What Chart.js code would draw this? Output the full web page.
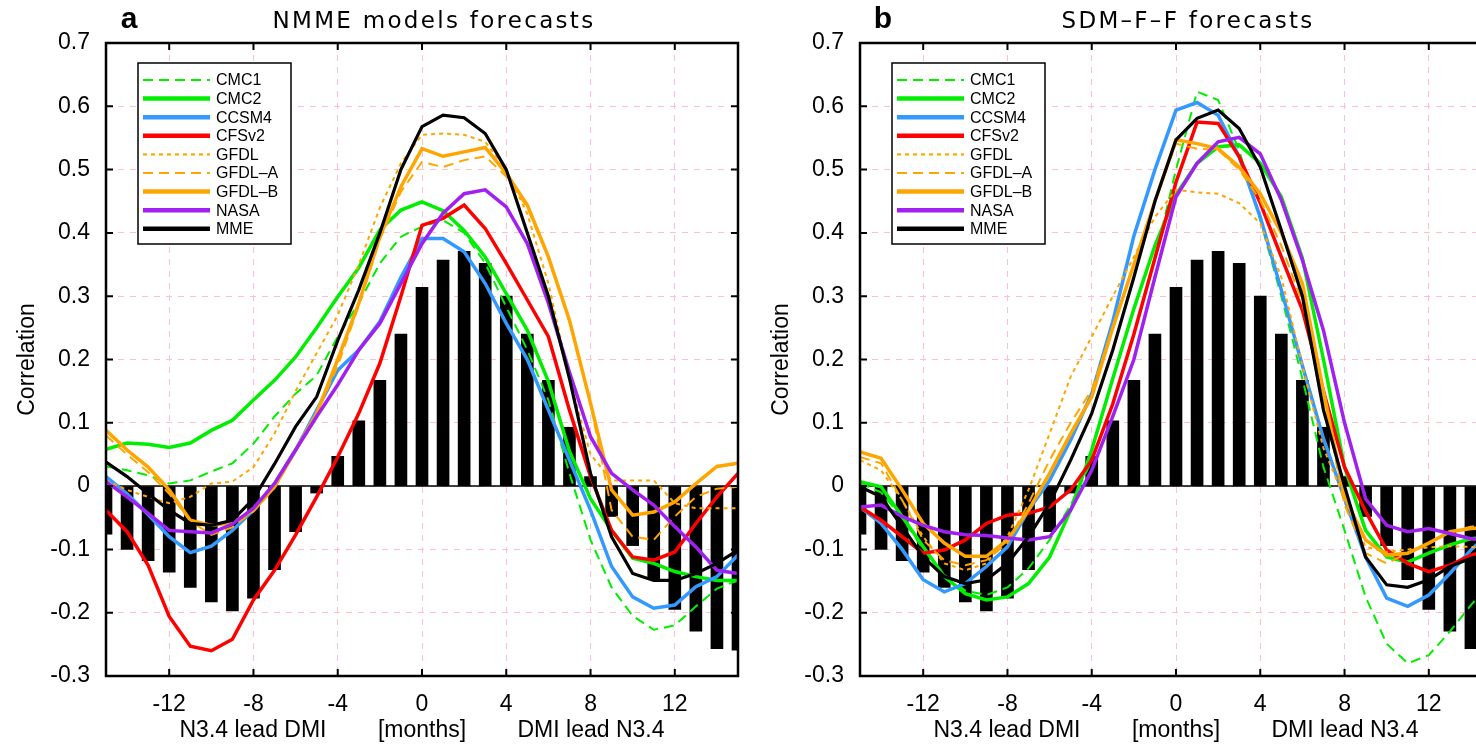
<!DOCTYPE html>
<html>
<head>
<meta charset="utf-8">
<title>NMME / SDM-F-F forecast correlations</title>
<script src="https://cdn.jsdelivr.net/npm/chart.js@4.4.0/dist/chart.umd.min.js"></script>
<style>
  html, body { margin: 0; padding: 0; background: #fff; overflow: hidden; width: 1476px; height: 749px; }
  .panel { position: absolute; top: 0; width: 760px; height: 749px; }
  #panelA { left: 0; }
  #panelB { left: 754px; }
</style>
</head>
<body>
<div class="panel" id="panelA"><canvas id="chartA" width="760" height="749"></canvas></div>
<div class="panel" id="panelB"><canvas id="chartB" width="760" height="749"></canvas></div>
<script>
// lag in months (negative: N3.4 leads DMI)
const months = [-15,-14,-13,-12,-11,-10,-9,-8,-7,-6,-5,-4,-3,-2,-1,0,1,2,3,4,5,6,7,8,9,10,11,12,13,14,15];
const xTicks = [-12,-8,-4,0,4,8,12];
const yTicks = [-0.3,-0.2,-0.1,0,0.1,0.2,0.3,0.4,0.5,0.6,0.7];

// observed lag correlation (black bars, same in both panels)
const obsCorr = [-0.076,-0.100,-0.118,-0.136,-0.160,-0.183,-0.197,-0.177,-0.132,-0.072,-0.011,0.047,0.103,0.167,0.240,
  0.314,0.357,0.371,0.352,0.300,0.240,0.167,0.093,0.015,-0.048,-0.094,-0.148,-0.195,-0.229,-0.257,-0.259];

const models = ['CMC1','CMC2','CCSM4','CFSv2','GFDL','GFDL–A','GFDL–B','NASA','MME'];

// panel a: NMME models
const cmc1A  = [0.031,0.025,0.017,0.004,0.009,0.023,0.036,0.067,0.110,0.146,0.175,0.236,0.289,0.352,0.394,
  0.410,0.420,0.400,0.352,0.283,0.215,0.136,0.020,-0.085,-0.160,-0.205,-0.227,-0.220,-0.190,-0.162,-0.149];
const cmc2A  = [0.058,0.068,0.066,0.061,0.068,0.088,0.104,0.136,0.167,0.204,0.250,0.299,0.345,0.405,0.436,
  0.449,0.435,0.404,0.362,0.304,0.246,0.165,0.055,-0.020,-0.070,-0.114,-0.122,-0.135,-0.143,-0.149,-0.149];
const ccsm4A = [0.015,-0.012,-0.045,-0.080,-0.105,-0.095,-0.070,-0.038,0.004,0.057,0.120,0.183,0.215,0.260,0.330,
  0.391,0.391,0.370,0.320,0.257,0.200,0.120,0.041,-0.038,-0.127,-0.175,-0.193,-0.188,-0.159,-0.143,-0.109];
const cfsv2A = [-0.038,-0.072,-0.125,-0.206,-0.253,-0.260,-0.242,-0.180,-0.133,-0.077,-0.017,0.046,0.115,0.194,0.300,
  0.412,0.423,0.444,0.407,0.352,0.294,0.236,0.120,0.015,-0.070,-0.112,-0.117,-0.104,-0.059,-0.017,0.020];
const gfdlA  = [0.009,-0.006,-0.017,-0.027,-0.017,0.004,0.007,0.030,0.083,0.150,0.210,0.270,0.350,0.440,0.510,
  0.555,0.557,0.555,0.544,0.500,0.430,0.320,0.170,0.050,0.009,0.009,0.009,-0.027,-0.035,-0.035,-0.035];
const gfdlaA = [0.080,0.050,0.022,-0.012,-0.055,-0.077,-0.065,-0.040,-0.003,0.055,0.115,0.190,0.285,0.390,0.465,
  0.512,0.504,0.515,0.521,0.489,0.440,0.360,0.260,0.130,-0.038,-0.080,-0.085,-0.048,-0.017,-0.004,-0.001];
const gfdlbA = [0.088,0.057,0.030,-0.006,-0.054,-0.062,-0.058,-0.038,-0.001,0.057,0.115,0.200,0.289,0.394,0.473,
  0.533,0.521,0.528,0.535,0.494,0.444,0.362,0.262,0.131,-0.006,-0.046,-0.041,-0.025,0.004,0.031,0.036];
const nasaA  = [0.007,-0.017,-0.043,-0.070,-0.072,-0.074,-0.060,-0.035,0.004,0.057,0.110,0.160,0.215,0.257,0.320,
  0.383,0.431,0.462,0.468,0.441,0.383,0.289,0.180,0.078,0.020,-0.006,-0.030,-0.064,-0.096,-0.133,-0.138];
const mmeA   = [0.038,0.015,-0.012,-0.038,-0.059,-0.062,-0.054,-0.020,0.035,0.094,0.141,0.230,0.310,0.400,0.500,
  0.568,0.586,0.582,0.557,0.500,0.400,0.300,0.170,0.020,-0.080,-0.138,-0.149,-0.149,-0.138,-0.122,-0.101];

// panel b: SDM-F-F
const cmc1B  = [0.005,-0.010,-0.050,-0.100,-0.140,-0.165,-0.172,-0.160,-0.130,-0.085,-0.030,0.040,0.130,0.240,0.360,
  0.500,0.623,0.610,0.530,0.420,0.300,0.170,0.030,-0.070,-0.175,-0.249,-0.280,-0.267,-0.230,-0.188,-0.150];
const cmc2B  = [0.007,-0.001,-0.048,-0.096,-0.143,-0.170,-0.180,-0.175,-0.154,-0.112,-0.038,0.057,0.170,0.280,0.380,
  0.460,0.510,0.536,0.539,0.510,0.457,0.360,0.200,0.030,-0.070,-0.112,-0.120,-0.106,-0.093,-0.083,-0.080];
const ccsm4B = [-0.033,-0.059,-0.100,-0.148,-0.167,-0.154,-0.127,-0.096,-0.038,0.009,0.073,0.146,0.260,0.395,0.500,
  0.594,0.606,0.586,0.520,0.425,0.310,0.190,0.075,-0.020,-0.112,-0.177,-0.190,-0.172,-0.138,-0.101,-0.070];
const cfsv2B = [-0.033,-0.054,-0.080,-0.106,-0.101,-0.085,-0.059,-0.046,-0.043,-0.033,-0.006,0.041,0.130,0.240,0.360,
  0.480,0.575,0.573,0.520,0.447,0.362,0.278,0.150,0.030,-0.040,-0.101,-0.122,-0.135,-0.125,-0.109,-0.100];
const gfdlB  = [0.041,0.025,-0.022,-0.080,-0.122,-0.133,-0.122,-0.080,-0.006,0.083,0.173,0.236,0.300,0.362,0.425,
  0.468,0.464,0.462,0.447,0.415,0.330,0.190,0.060,-0.020,-0.096,-0.104,-0.100,-0.097,-0.095,-0.096,-0.098];
const gfdlaB = [0.046,0.036,-0.022,-0.085,-0.117,-0.125,-0.117,-0.090,-0.027,0.041,0.100,0.152,0.250,0.350,0.450,
  0.541,0.533,0.531,0.500,0.452,0.380,0.290,0.140,-0.030,-0.106,-0.122,-0.106,-0.090,-0.072,-0.064,-0.060];
const gfdlbB = [0.054,0.044,-0.006,-0.059,-0.090,-0.111,-0.111,-0.085,-0.038,0.020,0.083,0.141,0.250,0.350,0.450,
  0.547,0.541,0.533,0.504,0.462,0.400,0.320,0.150,-0.017,-0.085,-0.109,-0.106,-0.090,-0.072,-0.067,-0.065];
const nasaB  = [-0.033,-0.030,-0.048,-0.062,-0.072,-0.077,-0.078,-0.082,-0.085,-0.080,-0.038,0.025,0.110,0.200,0.330,
  0.457,0.510,0.544,0.551,0.525,0.452,0.357,0.246,0.100,-0.020,-0.062,-0.072,-0.067,-0.075,-0.083,-0.085];
const mmeB   = [-0.001,-0.017,-0.064,-0.112,-0.143,-0.154,-0.148,-0.122,-0.080,-0.027,0.041,0.115,0.215,0.330,0.450,
  0.547,0.581,0.594,0.565,0.504,0.404,0.300,0.120,0.000,-0.112,-0.156,-0.160,-0.148,-0.127,-0.114,-0.110];

// line styles per model
const lineColor = ['#00ee00','#00ee00','#3399ff','#ff0000','#ffa500','#ffa500','#ffa500','#a020f0','#000000'];
const lineDash  = [[10,6],[],[],[],[4,4],[10,6],[],[],[]];
const lineWidth = [2,3.5,3.5,3.5,2,2,3.5,3.5,3.2];

const FONT = "'Liberation Sans', Arial, sans-serif";

function pts(values) {
  return months.map((m, i) => ({ x: m, y: values[i] }));
}

// frame, inward ticks, legend and the text round the plot
const panelDecor = {
  id: 'panelDecor',
  beforeDatasetsDraw(chart) {
    const { ctx, chartArea: a, scales: { y } } = chart;
    const y0 = y.getPixelForValue(0);
    ctx.save();
    ctx.strokeStyle = '#000';
    ctx.lineWidth = 1.5;
    ctx.beginPath();
    ctx.moveTo(a.left, y0);
    ctx.lineTo(a.right, y0);
    ctx.stroke();
    ctx.restore();
  },
  afterDraw(chart, args, opts) {
    const { ctx, chartArea: a, scales: { x, y } } = chart;
    ctx.save();

    ctx.strokeStyle = '#000';
    ctx.lineWidth = 2;
    ctx.beginPath();
    xTicks.forEach(v => {
      const px = x.getPixelForValue(v);
      ctx.moveTo(px, a.top); ctx.lineTo(px, a.top + 7);
      ctx.moveTo(px, a.bottom); ctx.lineTo(px, a.bottom - 7);
    });
    yTicks.forEach(v => {
      const py = y.getPixelForValue(v);
      ctx.moveTo(a.left, py); ctx.lineTo(a.left + 7, py);
      ctx.moveTo(a.right, py); ctx.lineTo(a.right - 7, py);
    });
    ctx.stroke();

    ctx.lineWidth = 2.5;
    ctx.strokeRect(a.left, a.top, a.right - a.left, a.bottom - a.top);

    // legend box
    const lx = a.left + 32, ly = 63;
    ctx.fillStyle = '#fff';
    ctx.fillRect(lx, ly, 153, 181);
    ctx.lineWidth = 1.5;
    ctx.strokeRect(lx, ly, 153, 181);
    ctx.font = '16px ' + FONT;
    ctx.textAlign = 'left';
    ctx.textBaseline = 'middle';
    chart.data.datasets.filter(d => d.type === 'line').forEach((d, i) => {
      const yy = 80 + i * 18.6;
      ctx.strokeStyle = d.borderColor;
      ctx.lineWidth = d.borderWidth >= 3 ? 4.5 : 2.2;
      ctx.setLineDash(d.borderDash);
      ctx.beginPath();
      ctx.moveTo(lx + 5, yy);
      ctx.lineTo(lx + 72, yy);
      ctx.stroke();
      ctx.setLineDash([]);
      ctx.fillStyle = '#000';
      ctx.fillText(d.label, lx + 78, yy + 1);
    });

    // panel letter and title
    ctx.fillStyle = '#000';
    ctx.textAlign = 'center';
    ctx.font = 'bold 30px ' + FONT;
    ctx.fillText(opts.letter, a.left + 23, 20);
    ctx.font = "23px 'DejaVu Sans', sans-serif";
    ctx.letterSpacing = '2.3px';
    ctx.fillText(opts.title, (a.left + a.right) / 2 + 12, 22);
    ctx.letterSpacing = '0px';

    // axis captions
    ctx.font = '23px ' + FONT;
    ctx.fillText('N3.4 lead DMI', a.left + 147, 731);
    ctx.fillText('[months]', a.left + 316, 731);
    ctx.fillText('DMI lead N3.4', a.left + 485, 731);
    ctx.translate(28, (a.top + a.bottom) / 2);
    ctx.rotate(-Math.PI / 2);
    ctx.fillText('Correlation', 0, 0);

    ctx.restore();
  }
};

function makeChart(canvasId, letter, title, series) {
  const datasets = [{
    type: 'bar',
    label: 'obs',
    data: pts(obsCorr),
    backgroundColor: '#000',
    barThickness: 12,
    clip: 0,
    order: 20
  }];
  series.forEach((vals, i) => {
    datasets.push({
      type: 'line',
      label: models[i],
      data: pts(vals),
      borderColor: lineColor[i],
      borderWidth: lineWidth[i],
      borderDash: lineDash[i],
      pointRadius: 0,
      tension: 0,
      fill: false,
      clip: 0,
      order: 9 - i
    });
  });

  return new Chart(document.getElementById(canvasId), {
    type: 'bar',
    data: { datasets: datasets },
    options: {
      responsive: false,
      animation: false,
      devicePixelRatio: 1,
      layout: { padding: { top: 43, right: 22, left: 0, bottom: 0 } },
      scales: {
        x: {
          type: 'linear',
          min: -15,
          max: 15,
          offset: false,
          z: 1,
          afterBuildTicks: s => { s.ticks = xTicks.map(v => ({ value: v })); },
          afterFit: s => { s.height = 73; },
          grid: { color: '#ffc0cb', lineWidth: 1, drawTicks: false, offset: false },
          border: { display: false, dash: [6, 6] },
          ticks: {
            color: '#000',
            font: { family: FONT, size: 23 },
            padding: 15,
            maxRotation: 0,
            autoSkip: false,
            callback: v => String(v)
          }
        },
        y: {
          min: -0.3,
          max: 0.7,
          z: 1,
          afterBuildTicks: s => { s.ticks = yTicks.map(v => ({ value: v })); },
          afterFit: s => { s.width = 106; },
          grid: { color: '#ffc0cb', lineWidth: 1, drawTicks: false },
          border: { display: false, dash: [6, 6] },
          ticks: {
            color: '#000',
            font: { family: FONT, size: 23 },
            padding: 16,
            autoSkip: false,
            callback: v => Math.abs(v) < 1e-9 ? '0' : v.toFixed(1)
          }
        }
      },
      plugins: {
        legend: { display: false },
        tooltip: { enabled: false },
        panelDecor: { letter: letter, title: title }
      }
    },
    plugins: [panelDecor]
  });
}

makeChart('chartA', 'a', 'NMME models forecasts',
  [cmc1A, cmc2A, ccsm4A, cfsv2A, gfdlA, gfdlaA, gfdlbA, nasaA, mmeA]);
makeChart('chartB', 'b', 'SDM–F–F forecasts',
  [cmc1B, cmc2B, ccsm4B, cfsv2B, gfdlB, gfdlaB, gfdlbB, nasaB, mmeB]);
</script>
</body>
</html>
